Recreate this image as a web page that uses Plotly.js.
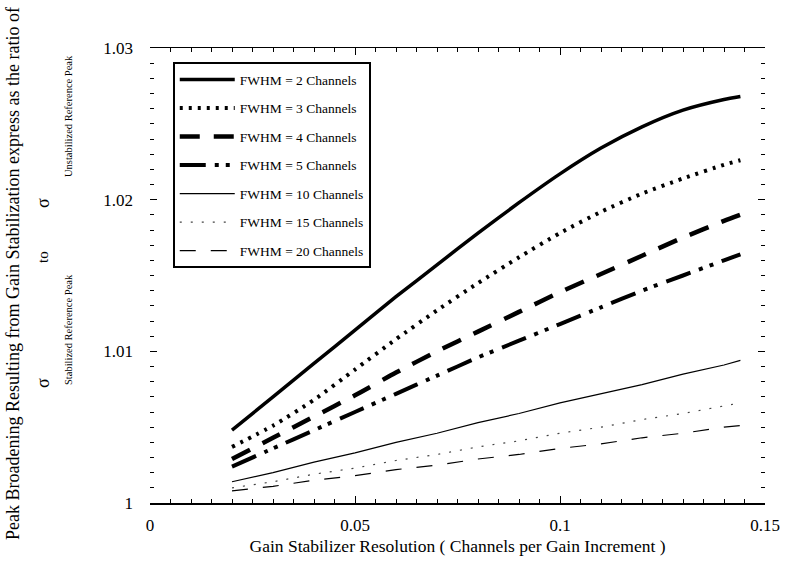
<!DOCTYPE html>
<html>
<head>
<meta charset="utf-8">
<script src="https://cdn.plot.ly/plotly-3.0.1.min.js"></script>
<style>html,body{margin:0;padding:0;background:#fff;}#chart{width:788px;height:563px;}</style>
</head>
<body>
<div id="chart"></div>
<script>
// Gain stabilizer resolution (channels per gain increment)
const xValues = [0.02, 0.03, 0.04, 0.05, 0.06, 0.07, 0.08, 0.09, 0.10, 0.11, 0.12, 0.13, 0.14, 0.144];
// Ratio sigma(stabilized) / sigma(unstabilized) for each FWHM
const fwhm2  = [1.0048, 1.0070, 1.0092, 1.0114, 1.0136, 1.0157, 1.0178, 1.0198, 1.0217, 1.0234, 1.0248, 1.0259, 1.0266, 1.0268];
const fwhm3  = [1.0037, 1.0051, 1.0068, 1.0088, 1.0108, 1.0127, 1.0145, 1.0162, 1.0178, 1.0192, 1.0204, 1.0214, 1.0223, 1.0226];
const fwhm4  = [1.0029, 1.0043, 1.0057, 1.0071, 1.0086, 1.0100, 1.0113, 1.0126, 1.0139, 1.0151, 1.0163, 1.0175, 1.0186, 1.0190];
const fwhm5  = [1.0024, 1.0036, 1.0048, 1.0060, 1.0072, 1.0084, 1.0096, 1.0107, 1.0118, 1.0129, 1.0140, 1.0150, 1.0160, 1.0164];
const fwhm10 = [1.0014, 1.0020, 1.0027, 1.0033, 1.0040, 1.0046, 1.0053, 1.0059, 1.0066, 1.0072, 1.0078, 1.0085, 1.0091, 1.0094];
const fwhm15 = [1.0010, 1.0014, 1.0019, 1.0023, 1.0028, 1.0032, 1.0037, 1.0041, 1.0046, 1.0050, 1.0055, 1.0059, 1.0064, 1.0066];
const fwhm20 = [1.0008, 1.0011, 1.0015, 1.0018, 1.0022, 1.0025, 1.0029, 1.0032, 1.0036, 1.0039, 1.0043, 1.0046, 1.0050, 1.0051];
const seriesNames = ["FWHM = 2 Channels", "FWHM = 3 Channels", "FWHM = 4 Channels", "FWHM = 5 Channels",
                     "FWHM = 10 Channels", "FWHM = 15 Channels", "FWHM = 20 Channels"];
const xTickVals = [0, 0.05, 0.1, 0.15];
const xTickText = ["0", "0.05", "0.1", "0.15"];
const yTickVals = [1, 1.01, 1.02, 1.03];
const yTickText = ["1", "1.01", "1.02", "1.03"];

const serif = "Liberation Serif, Times New Roman, serif";
const seriesData = [fwhm2, fwhm3, fwhm4, fwhm5, fwhm10, fwhm15, fwhm20];
const styles = [
  {width: 3.5, dash: "solid", color: "#000", shape: "spline"},
  {width: 4, dash: "3px,6px", color: "#000", shape: "spline"},
  {width: 4.5, dash: "20px,14px", color: "#000", shape: "spline"},
  {width: 4, dash: "26px,9px,4px,7px,4px,9px", color: "#000", shape: "spline"},
  {width: 1.2, dash: "solid", color: "#000", shape: "linear"},
  {width: 1.2, dash: "2px,9px", color: "#444", shape: "linear"},
  {width: 1.2, dash: "16px,15px", color: "#000", shape: "linear"}
];
const traces = seriesData.map((ys, i) => ({
  type: "scatter", mode: "lines", x: xValues, y: ys, name: seriesNames[i],
  legendgroup: "g" + i,
  line: {color: styles[i].color, width: styles[i].width, dash: styles[i].dash, shape: styles[i].shape, smoothing: 0.6}
}));

function sideText(px, py, text, size) {
  return {xref: "paper", yref: "paper", x: (px - 150) / 615, y: (503 - py) / 455,
          xanchor: "center", yanchor: "middle", textangle: -90, showarrow: false,
          text: text, font: {family: serif, size: size, color: "#000"}};
}

const layout = {
  width: 788, height: 563,
  margin: {l: 150, r: 23, t: 48, b: 60},
  paper_bgcolor: "#fff", plot_bgcolor: "#fff",
  font: {family: serif, color: "#000"},
  showlegend: true,
  legend: {
    x: 0.037, y: 0.969, xanchor: "left", yanchor: "top",
    bgcolor: "#fff", bordercolor: "#000", borderwidth: 2,
    font: {family: serif, size: 13.5, color: "#000"},
    traceorder: "grouped", tracegroupgap: 8, itemwidth: 55
  },
  xaxis: {
    range: [0, 0.15], tickvals: xTickVals, ticktext: xTickText,
    showgrid: false, zeroline: false, showline: true, linecolor: "#000", linewidth: 1.5,
    mirror: "ticks", ticks: "inside", ticklen: 7, tickcolor: "#000",
    minor: {dtick: 0.005, ticks: "inside", ticklen: 4, tickcolor: "#000", showgrid: false},
    tickfont: {family: serif, size: 17, color: "#000"},
    ticklabelstandoff: 6,
    title: {text: "Gain Stabilizer Resolution ( Channels per Gain Increment )", font: {family: serif, size: 17.5, color: "#000"}, standoff: 6}
  },
  yaxis: {
    range: [1, 1.03], tickvals: yTickVals, ticktext: yTickText,
    showgrid: false, zeroline: false, showline: false,
    mirror: "ticks", ticks: "inside", ticklen: 7, tickcolor: "#000",
    minor: {dtick: 0.001, ticks: "inside", ticklen: 4, tickcolor: "#000", showgrid: false},
    tickfont: {family: serif, size: 17, color: "#000"},
    ticklabelstandoff: 16
  },
  annotations: [
    sideText(13, 274, "Peak Broadening Resulting from Gain Stabilization express as the ratio of", 18),
    sideText(43, 383, "σ", 18),
    sideText(68, 330, "Stabilized Reference Peak", 10.5),
    sideText(43, 257, "to", 15),
    sideText(43, 203, "σ", 18),
    sideText(68, 116, "Unstabilized Reference Peak", 10.5)
  ]
};

Plotly.newPlot("chart", traces, layout, {displayModeBar: false, staticPlot: true});
</script>
</body>
</html>
